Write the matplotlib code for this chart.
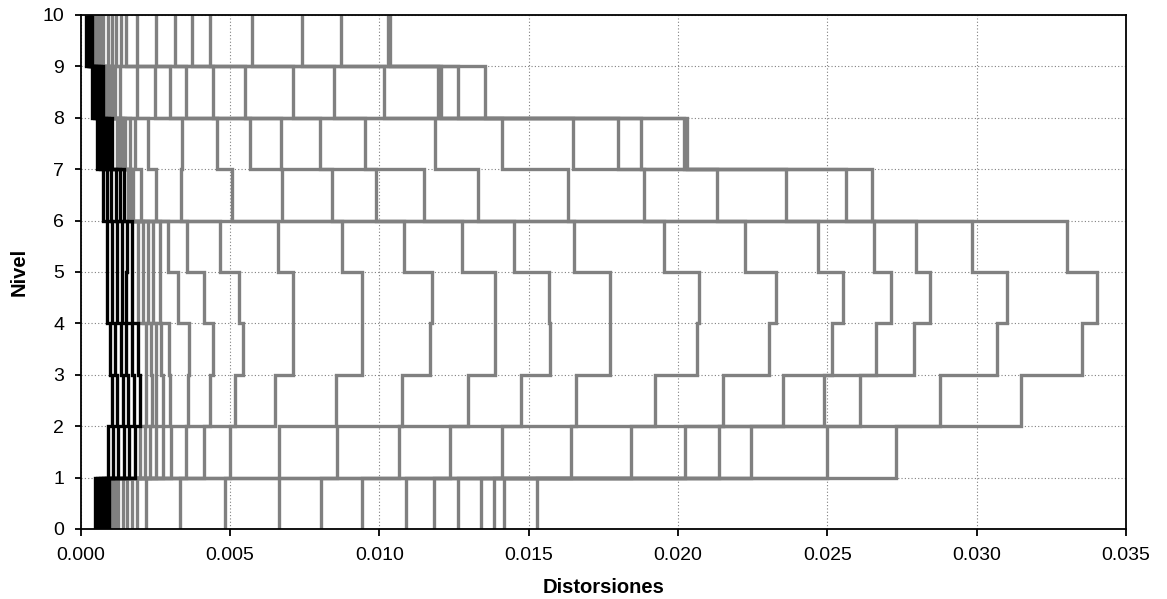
import matplotlib
matplotlib.use("Agg")
import matplotlib.pyplot as plt
import numpy as np
from matplotlib.ticker import MultipleLocator, FormatStrFormatter

plt.rcParams['font.family'] = ['Liberation Sans', 'DejaVu Sans']

# Story drifts (interstory drift ratio) per story, one value per record.
# Black group: low-intensity records; gray group: the remaining records.
black_s1 = [0.00047, 0.00056, 0.00065, 0.00075, 0.00084, 0.00093]
black_s2 = [0.00092, 0.00109, 0.00125, 0.00144, 0.00162, 0.00181]
black_s3 = [0.00103, 0.00122, 0.00140, 0.00159, 0.00178, 0.00198]
black_s4 = [0.00097, 0.00116, 0.00135, 0.00153, 0.00172, 0.00192]
black_s5 = [0.00087, 0.00103, 0.00120, 0.00137, 0.00153, 0.00170]
black_s6 = [0.00087, 0.00104, 0.00120, 0.00137, 0.00154, 0.00171]
black_s7 = [0.00073, 0.00087, 0.00101, 0.00117, 0.00131, 0.00145]
black_s8 = [0.00053, 0.00063, 0.00073, 0.00083, 0.00093, 0.00106]
black_s9 = [0.00036, 0.00044, 0.00052, 0.00060, 0.00068, 0.00076]
black_s10 = [0.00019, 0.00023, 0.00026, 0.00030, 0.00033, 0.00037]

gray_s1 = [0.00103, 0.00111, 0.00118, 0.00126, 0.00140, 0.00154, 0.00170,
           0.00188, 0.00219, 0.00331, 0.00483, 0.00664, 0.00803, 0.00942,
           0.01089, 0.01183, 0.01264, 0.01340, 0.01383, 0.01417, 0.01529]
gray_s2 = [0.00198, 0.00214, 0.00231, 0.00253, 0.00275, 0.00303, 0.00353,
           0.00411, 0.00500, 0.00665, 0.00859, 0.01067, 0.01237, 0.01409,
           0.01642, 0.01842, 0.02022, 0.02137, 0.02244, 0.02500, 0.02731]
gray_s3 = [0.00220, 0.00237, 0.00253, 0.00275, 0.00298, 0.00359, 0.00433,
           0.00517, 0.00651, 0.00855, 0.01075, 0.01295, 0.01475, 0.01659,
           0.01922, 0.02151, 0.02353, 0.02487, 0.02609, 0.02878, 0.03148]
gray_s4 = [0.00218, 0.00234, 0.00251, 0.00268, 0.00295, 0.00362, 0.00442,
           0.00544, 0.00711, 0.00942, 0.01170, 0.01387, 0.01570, 0.01773,
           0.02062, 0.02303, 0.02514, 0.02662, 0.02790, 0.03067, 0.03353]
gray_s5 = [0.00192, 0.00209, 0.00225, 0.00242, 0.00264, 0.00325, 0.00414,
           0.00531, 0.00711, 0.00942, 0.01175, 0.01387, 0.01568, 0.01773,
           0.02070, 0.02329, 0.02553, 0.02712, 0.02842, 0.03101, 0.03403]
gray_s6 = [0.00192, 0.00209, 0.00225, 0.00242, 0.00264, 0.00292, 0.00355,
           0.00467, 0.00659, 0.00875, 0.01084, 0.01275, 0.01451, 0.01651,
           0.01953, 0.02225, 0.02470, 0.02657, 0.02798, 0.02984, 0.03303]
gray_s7 = [0.00158, 0.00162, 0.00165, 0.00169, 0.00172, 0.00176, 0.00203,
           0.00251, 0.00337, 0.00508, 0.00675, 0.00842, 0.00987, 0.01148,
           0.01331, 0.01631, 0.01887, 0.02131, 0.02362, 0.02562, 0.02650]
gray_s8 = [0.00120, 0.00127, 0.00134, 0.00141, 0.00148, 0.00166, 0.00181,
           0.00224, 0.00338, 0.00455, 0.00568, 0.00670, 0.00800, 0.00951,
           0.01187, 0.01409, 0.01648, 0.01798, 0.01875, 0.02020, 0.02030]
gray_s9 = [0.00086, 0.00091, 0.00096, 0.00101, 0.00106, 0.00111, 0.00115,
           0.00131, 0.00187, 0.00250, 0.00298, 0.00353, 0.00443, 0.00551,
           0.00709, 0.00848, 0.01014, 0.01197, 0.01207, 0.01264, 0.01353]
gray_s10 = [0.00047, 0.00053, 0.00059, 0.00064, 0.00070, 0.00076, 0.00092,
            0.00104, 0.00117, 0.00134, 0.00150, 0.00189, 0.00251, 0.00314,
            0.00372, 0.00434, 0.00575, 0.00742, 0.00873, 0.01030, 0.01036]

black_stories = [black_s1, black_s2, black_s3, black_s4, black_s5,
                 black_s6, black_s7, black_s8, black_s9, black_s10]
gray_stories = [gray_s1, gray_s2, gray_s3, gray_s4, gray_s5,
                gray_s6, gray_s7, gray_s8, gray_s9, gray_s10]

x_ticks = [0.000, 0.005, 0.010, 0.015, 0.020, 0.025, 0.030, 0.035]
y_ticks = list(range(0, 11))


def step_profile(drifts):
    """Stair-step drift profile: constant drift over each story height."""
    xs, ys = [], []
    for i, d in enumerate(drifts):
        xs += [d, d]
        ys += [i, i + 1]
    return xs, ys


fig = plt.figure(figsize=(11.67, 5.99), dpi=100)
ax = fig.add_axes([0.0692, 0.1169, 0.8957, 0.8581])

line_kw = dict(linewidth=2.4, solid_joinstyle='miter', solid_capstyle='butt')

for rec in zip(*gray_stories):
    xs, ys = step_profile(rec)
    ax.plot(xs, ys, color='#808080', **line_kw)

for rec in zip(*black_stories):
    xs, ys = step_profile(rec)
    ax.plot(xs, ys, color='#000000', **line_kw)

ax.set_xlim(x_ticks[0], x_ticks[-1])
ax.set_ylim(y_ticks[0], y_ticks[-1])
ax.set_xticks(x_ticks)
ax.set_yticks(y_ticks)
ax.xaxis.set_major_formatter(FormatStrFormatter('%.3f'))

ax.set_axisbelow(True)
ax.grid(True, color='#808080', linestyle=(0, (1, 2)), linewidth=0.8)

for sp in ax.spines.values():
    sp.set_linewidth(1.3)
    sp.set_color('black')

ax.tick_params(axis='x', direction='out', length=5, width=1.3,
               labelsize=14, pad=8, top=False)
ax.tick_params(axis='y', direction='out', length=4, width=1.3,
               labelsize=14, pad=8, right=False)

ax.set_xlabel('Distorsiones', fontsize=14.5, fontweight='bold', labelpad=10)
ax.set_ylabel('Nivel', fontsize=14.5, fontweight='bold', labelpad=10)

fig.savefig('out.png', dpi=100)
